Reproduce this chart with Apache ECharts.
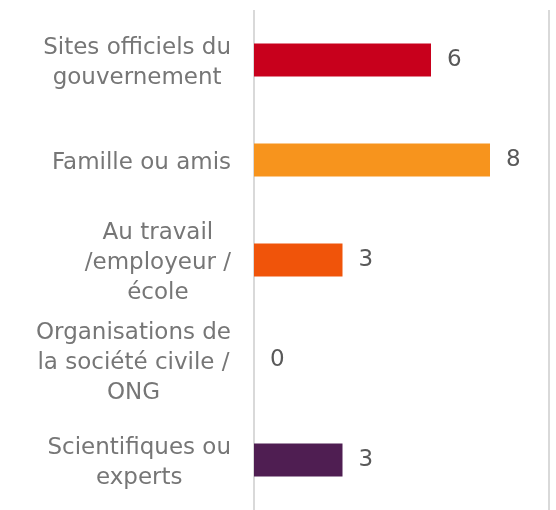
<!DOCTYPE html>
<html>
<head>
<meta charset="utf-8">
<script src="https://cdn.jsdelivr.net/npm/echarts@6/dist/echarts.min.js"></script>
<style>
html,body{margin:0;padding:0;background:#fff;}
#chart{width:556px;height:510px;}
</style>
</head>
<body>
<div id="chart"></div>
<script>
const categories = [
  "Sites officiels du\ngouvernement",
  "Famille ou amis",
  "Au travail\n/employeur /\nécole",
  "Organisations de\nla société civile /\nONG",
  "Scientifiques ou\nexperts"
];
const values = [6, 8, 3, 0, 3];
const colors = ["#C8001C", "#F7941D", "#F0540A", "#7F7F7F", "#4F1E52"];

const FONT = "'DejaVu Sans', Verdana, sans-serif";
const chart = echarts.init(document.getElementById('chart'), null, {renderer: 'canvas'});
chart.setOption({
  animation: false,
  grid: {left: 254, right: 7, top: 10, bottom: 0, containLabel: false},
  xAxis: {
    type: 'value', min: 0, max: 10, interval: 10,
    axisLine: {show: false}, axisTick: {show: false}, axisLabel: {show: false},
    splitLine: {show: true, lineStyle: {color: '#D9D9D9', width: 2}}
  },
  yAxis: {
    type: 'category', inverse: true, data: categories,
    axisLine: {show: false}, axisTick: {show: false},
    axisLabel: {
      margin: 23, align: 'right', padding: [6, 0, 0, 0],
      fontFamily: FONT, fontSize: 23, color: '#767676',
      formatter: v => v.split('\n').map(l => '{c|' + l + '}').join('\n'),
      rich: {c: {align: 'center', fontFamily: FONT, fontSize: 23, color: '#767676', lineHeight: 30}}
    }
  },
  series: [{
    type: 'bar', barWidth: 33,
    data: values.map((v, i) => ({value: v, itemStyle: {color: colors[i]}})),
    label: {
      show: true, position: 'right', distance: 16,
      fontFamily: FONT, fontSize: 23, color: '#595959'
    }
  }]
});
</script>
</body>
</html>
